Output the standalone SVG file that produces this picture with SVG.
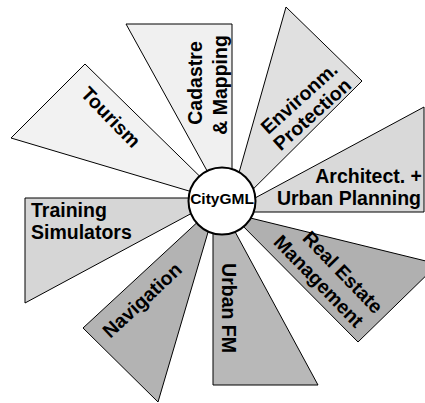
<svg xmlns="http://www.w3.org/2000/svg" width="425" height="403" viewBox="0 0 425 403">
<style>
.w{stroke:#000;stroke-width:1;stroke-linejoin:miter}
.t{font-family:"Liberation Sans",Arial,sans-serif;font-weight:bold;font-size:19.5px;fill:#000}
.m{text-anchor:middle}
.e{text-anchor:end}
</style>
<rect width="425" height="403" fill="#fff"/>
<g id="tourism">
<polygon class="w" fill="#f2f2f2" points="85,64 11,138 226,202"/>
<text class="t m" transform="translate(111,117) rotate(46)" y="7">Tourism</text>
</g>
<g id="cadastre">
<polygon class="w" fill="#f0f0f0" points="126,24 232,24 232,216"/>
<text class="t m" transform="translate(202,83) rotate(-90)">Cadastre</text>
<text class="t m" transform="translate(227,85) rotate(-90)">&amp; Mapping</text>
</g>
<g id="environm">
<polygon class="w" fill="#e0e0e0" points="286,7 362,81 227,215"/>
<text class="t m" transform="translate(299,98) rotate(-42)" y="7">Environm.</text>
<text class="t m" transform="translate(312,114) rotate(-42)" y="7">Protection</text>
</g>
<g id="architect">
<polygon class="w" fill="#d9d9d9" points="424,107 424,212 229,212"/>
<text class="t e" x="422" y="183">Architect. +</text>
<text class="t e" x="421" y="205">Urban Planning</text>
</g>
<g id="training">
<polygon class="w" fill="#d6d6d6" points="25,198 220,198 25,303"/>
<text class="t" x="31" y="217">Training</text>
<text class="t" x="31" y="239">Simulators</text>
</g>
<g id="navigation">
<polygon class="w" fill="#b3b3b3" points="83,328 216,205 158,402"/>
<text class="t m" transform="translate(142,300) rotate(-43)" y="7">Navigation</text>
</g>
<g id="urbanfm">
<polygon class="w" fill="#b8b8b8" points="213,191 213,385 318,385"/>
<text class="t m" transform="translate(222,308) rotate(90)">Urban FM</text>
</g>
<g id="realestate">
<polygon class="w" fill="#b0b0b0" points="230,213 438,264 358,342"/>
<text class="t m" transform="translate(343,272) rotate(46)" y="7">Real Estate</text>
<text class="t m" transform="translate(319,281) rotate(46)" y="7">Management</text>
</g>
<g id="citygml">
<circle cx="222" cy="201" r="33.5" fill="#fff" stroke="#000" stroke-width="2"/>
<text class="t m" x="222" y="204" style="font-size:15.5px">CityGML</text>
</g>
</svg>
